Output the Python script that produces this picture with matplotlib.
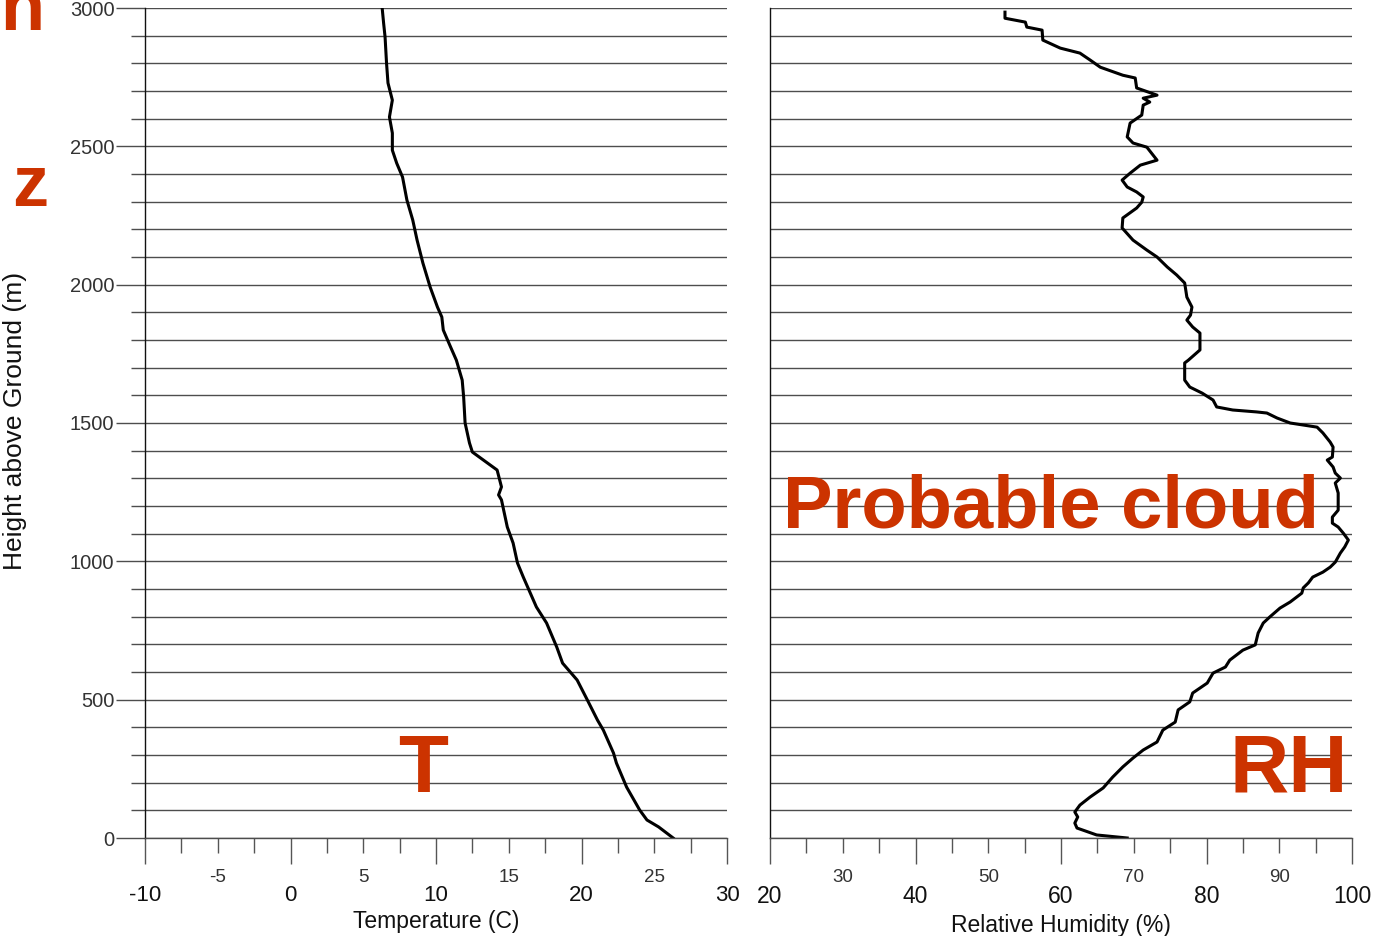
import matplotlib
matplotlib.use("Agg")
import matplotlib.pyplot as plt
from matplotlib.ticker import MultipleLocator, FixedLocator, FuncFormatter

plt.rcParams['font.family'] = ['Liberation Sans', 'DejaVu Sans']

# ---- data ----
t_height = [0, 40, 65, 101, 184, 271, 307, 390, 426, 499, 571, 632, 690, 777, 835,
            943, 994, 1066, 1124, 1222, 1240, 1269, 1330, 1395, 1428, 1500, 1594,
            1655, 1727, 1775, 1836, 1883, 1919, 1991, 2078, 2161, 2234, 2306, 2389,
            2439, 2486, 2548, 2606, 2667, 2729, 2801, 2895, 2945, 3000]
t_values = [26.3, 25.3, 24.5, 24.0, 23.1, 22.4, 22.2, 21.5, 21.1, 20.4, 19.7, 18.7,
            18.3, 17.6, 16.9, 16.0, 15.6, 15.3, 14.9, 14.5, 14.3, 14.5, 14.2, 12.5,
            12.3, 12.0, 11.9, 11.8, 11.4, 11.0, 10.5, 10.4, 10.1, 9.6, 9.1, 8.7, 8.4,
            8.0, 7.7, 7.3, 7.0, 7.0, 6.8, 7.0, 6.7, 6.6, 6.5, 6.4, 6.3]

rh_height = [0, 11, 36, 54, 76, 94, 119, 148, 181, 220, 257, 289, 318, 347, 390, 419,
             463, 492, 524, 560, 596, 618, 643, 679, 698, 741, 777, 799, 831, 853, 885,
             904, 922, 943, 961, 979, 997, 1030, 1052, 1077, 1102, 1124, 1138, 1160,
             1185, 1247, 1283, 1301, 1319, 1341, 1366, 1377, 1413, 1431, 1464, 1485,
             1500, 1518, 1536, 1540, 1547, 1558, 1583, 1608, 1630, 1655, 1717, 1727,
             1764, 1775, 1825, 1847, 1872, 1890, 1919, 1955, 2006, 2035, 2064, 2100,
             2125, 2161, 2205, 2241, 2277, 2298, 2317, 2335, 2353, 2378, 2403, 2432,
             2450, 2497, 2512, 2534, 2584, 2613, 2649, 2660, 2674, 2685, 2711, 2747,
             2757, 2786, 2812, 2837, 2855, 2884, 2920, 2931, 2949, 2963, 2985]
rh_values = [69.1, 64.9, 62.2, 61.9, 62.3, 61.9, 62.6, 64.0, 65.8, 67.1, 68.5, 69.9,
             71.3, 73.2, 74.0, 75.7, 76.1, 77.7, 78.1, 80.1, 80.9, 82.6, 83.2, 85.0,
             86.7, 87.1, 87.8, 88.7, 90.1, 91.5, 93.1, 93.3, 94.0, 94.6, 96.0, 97.0,
             97.7, 98.4, 99.0, 99.5, 98.8, 98.1, 97.3, 97.3, 98.1, 98.1, 97.7, 98.4,
             97.7, 97.4, 96.6, 97.3, 97.4, 97.0, 96.0, 95.2, 91.5, 89.7, 88.3, 86.9,
             83.6, 81.4, 80.9, 79.4, 77.7, 77.0, 77.0, 77.5, 79.1, 79.1, 79.1, 78.1,
             77.3, 77.8, 78.0, 77.3, 77.0, 75.9, 74.6, 73.2, 71.8, 69.9, 68.4, 68.5,
             70.4, 71.1, 71.3, 70.4, 69.1, 68.4, 69.5, 70.9, 73.2, 71.8, 69.9, 69.1,
             69.5, 71.1, 71.3, 72.2, 71.3, 73.2, 70.4, 70.2, 68.5, 65.4, 64.0, 62.6,
             59.9, 57.5, 57.4, 55.3, 55.1, 52.3, 52.3]

y_ticks = [0, 500, 1000, 1500, 2000, 2500, 3000]
t_major = [-10, 0, 10, 20, 30]
t_minor = [-7.5, -5, -2.5, 2.5, 5, 7.5, 12.5, 15, 17.5, 22.5, 25, 27.5]
rh_major = [20, 40, 60, 80, 100]
rh_minor = [25, 30, 35, 45, 50, 55, 65, 70, 75, 85, 90, 95]

RED = '#CC3300'
GRID = '#4d4d4d'

W, H = 1373, 936
fig = plt.figure(figsize=(W / 100, H / 100), dpi=100)
axT = fig.add_axes([145 / W, 98 / H, 582 / W, 830 / H])
axR = fig.add_axes([770 / W, 98 / H, 582 / W, 830 / H])


def style(ax, xlim, major, minor, step_label, ylabels, major_size):
    ax.set_xlim(*xlim)
    ax.set_ylim(0, 3000)
    for s in ('top', 'right'):
        ax.spines[s].set_visible(False)
    ax.spines['bottom'].set_color(GRID)
    ax.spines['bottom'].set_linewidth(1.0)
    ax.spines['left'].set_color('#111111')
    ax.spines['left'].set_linewidth(1.0)
    ax.yaxis.set_major_locator(FixedLocator(y_ticks))
    ax.yaxis.set_minor_locator(MultipleLocator(100))
    ax.grid(True, which='both', axis='y', color=GRID, lw=1.0)
    ax.set_axisbelow(True)
    if ylabels:
        ax.tick_params(axis='y', which='major', length=21, width=1.0, color=GRID,
                       labelsize=14.5, pad=1, labelcolor='#333333')
        ax.tick_params(axis='y', which='minor', length=10, width=1.0, color=GRID)
    else:
        ax.tick_params(axis='y', which='both', length=0, labelleft=False)
    ax.xaxis.set_major_locator(FixedLocator(major))
    ax.xaxis.set_minor_locator(FixedLocator(minor))
    ax.xaxis.set_major_formatter(FuncFormatter(lambda v, p: f'{v:g}'))
    ax.xaxis.set_minor_formatter(
        FuncFormatter(lambda v, p: f'{v:g}' if v % step_label == 0 else ''))
    ax.tick_params(axis='x', which='major', length=19, width=1.0, color='#555555',
                   labelsize=major_size, pad=15, labelcolor='#111111')
    ax.tick_params(axis='x', which='minor', length=11, width=1.0, color='#555555',
                   labelsize=13.5, pad=11, labelcolor='#333333')


style(axT, (-10, 30), t_major, t_minor, 5, True, 16)
style(axR, (20, 100), rh_major, rh_minor, 10, False, 16.5)

axT.plot(t_values, t_height, color='black', lw=2.2, solid_joinstyle='round')
axR.plot(rh_values, rh_height, color='black', lw=2.2, solid_joinstyle='round')

axT.set_xlabel('Temperature (C)', fontsize=16.5, labelpad=3, color='#111111')
axR.set_xlabel('Relative Humidity (%)', fontsize=16.5, labelpad=4, color='#111111')

fig.text(15 / W, 1 - 421 / H, 'Height above Ground (m)', rotation=90, fontsize=19,
         ha='center', va='center', color='#111111')

bold = dict(color=RED, fontweight='bold')
fig.text(783 / W, 1 - 528 / H, 'Probable cloud', fontsize=53.5, ha='left',
         va='baseline', **bold)
fig.text(423 / W, 1 - 792 / H, 'T', fontsize=59, ha='center', va='baseline', **bold)
fig.text(1348 / W, 1 - 792 / H, 'RH', fontsize=59, ha='right', va='baseline', **bold)
fig.text(12 / W, 1 - 206 / H, 'z', fontsize=52, ha='left', va='baseline', **bold)
fig.text(0 / W, 1 - 30 / H, 'n', fontsize=52, ha='left', va='baseline', **bold)

fig.savefig('out.png', dpi=100)
